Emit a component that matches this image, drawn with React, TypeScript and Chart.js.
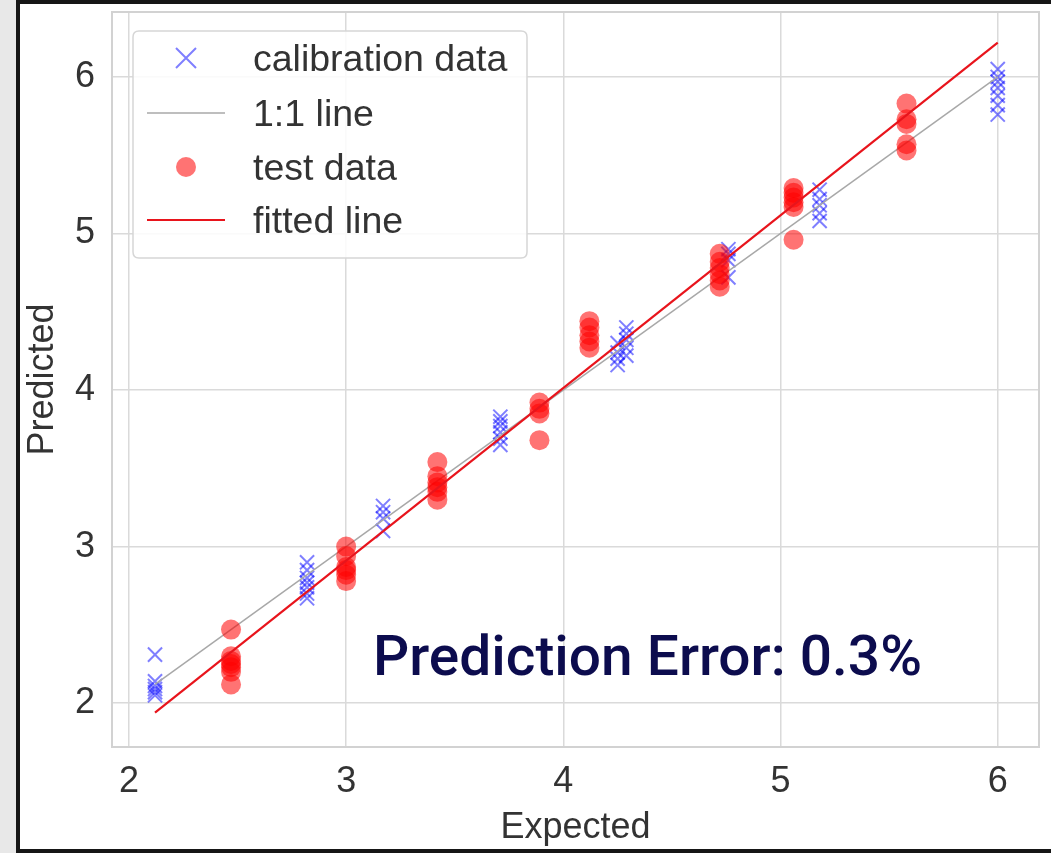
import React, { useEffect, useRef } from "react";
import { Chart, registerables } from "chart.js";

Chart.register(...registerables);

// ---------- data ----------
const xTicks = [2, 3, 4, 5, 6];
const yTicks = [2, 3, 4, 5, 6];

const seriesLabels = ["calibration data", "1:1 line", "test data", "fitted line"];

const calibExpected = [
  2.12, 2.12, 2.12, 2.12, 2.12, 2.12,
  2.82, 2.82, 2.82, 2.82, 2.82, 2.82, 2.82,
  3.17, 3.17, 3.17, 3.17,
  3.71, 3.71, 3.71, 3.71, 3.71, 3.71,
  4.25, 4.25, 4.25, 4.25,
  4.29, 4.29, 4.29, 4.29, 4.29,
  4.76, 4.76, 4.76, 4.76,
  5.18, 5.18, 5.18, 5.18, 5.18,
  6.0, 6.0, 6.0, 6.0, 6.0, 6.0, 6.0,
];
const calibPredicted = [
  2.31, 2.14, 2.11, 2.09, 2.07, 2.05,
  2.9, 2.85, 2.8, 2.77, 2.74, 2.7, 2.67,
  3.26, 3.22, 3.18, 3.1,
  3.83, 3.8, 3.77, 3.73, 3.69, 3.65,
  4.3, 4.24, 4.2, 4.16,
  4.4, 4.36, 4.32, 4.27, 4.22,
  4.9, 4.87, 4.83, 4.72,
  5.28, 5.22, 5.18, 5.13, 5.08,
  6.05, 6.0, 5.97, 5.93, 5.88, 5.82, 5.76,
];

const testExpected = [
  2.47, 2.47, 2.47, 2.47, 2.47, 2.47, 2.47,
  3.0, 3.0, 3.0, 3.0, 3.0, 3.0,
  3.42, 3.42, 3.42, 3.42, 3.42, 3.42,
  3.89, 3.89, 3.89, 3.89,
  4.12, 4.12, 4.12, 4.12, 4.12,
  4.72, 4.72, 4.72, 4.72, 4.72, 4.72,
  5.06, 5.06, 5.06, 5.06, 5.06, 5.06,
  5.58, 5.58, 5.58, 5.58, 5.58,
];
const testPredicted = [
  2.47, 2.3, 2.27, 2.25, 2.23, 2.2, 2.12,
  3.0, 2.94, 2.87, 2.85, 2.82, 2.78,
  3.54, 3.45, 3.41, 3.38, 3.35, 3.3,
  3.92, 3.88, 3.85, 3.68,
  4.44, 4.4, 4.35, 4.31, 4.27,
  4.87, 4.82, 4.78, 4.74, 4.7, 4.66,
  5.29, 5.26, 5.23, 5.2, 5.17, 4.96,
  5.83, 5.73, 5.7, 5.57, 5.53,
];

const oneToOneX = [2.12, 6.0];
const oneToOneY = [2.12, 6.0];
const fitX = [2.12, 6.0];
const fitY = [1.94, 6.22];

const xTitle = "Expected";
const yTitle = "Predicted";
const annotationText = "Prediction Error: 0.3%";

// ---------- styling ----------
const FONT = "'Liberation Sans', Arial, sans-serif";
const TEXT_COLOR = "#333333";
const GRID_COLOR = "#dadada";

const zip = (xs: number[], ys: number[]) => xs.map((x, i) => ({ x, y: ys[i] }));

const framePlugin = {
  id: "plotFrame",
  beforeDatasetsDraw(chart: any) {
    const { ctx, chartArea } = chart;
    ctx.save();
    ctx.strokeStyle = "#d2d2d2";
    ctx.lineWidth = 2;
    ctx.strokeRect(chartArea.left, chartArea.top, chartArea.right - chartArea.left, chartArea.bottom - chartArea.top);
    ctx.restore();
  },
};

const legendPlugin = {
  id: "innerLegend",
  afterDraw(chart: any) {
    const { ctx } = chart;
    const bx = 133, by = 31, bw = 394, bh = 227, r = 6;
    ctx.save();
    ctx.beginPath();
    ctx.moveTo(bx + r, by);
    ctx.lineTo(bx + bw - r, by);
    ctx.quadraticCurveTo(bx + bw, by, bx + bw, by + r);
    ctx.lineTo(bx + bw, by + bh - r);
    ctx.quadraticCurveTo(bx + bw, by + bh, bx + bw - r, by + bh);
    ctx.lineTo(bx + r, by + bh);
    ctx.quadraticCurveTo(bx, by + bh, bx, by + bh - r);
    ctx.lineTo(bx, by + r);
    ctx.quadraticCurveTo(bx, by, bx + r, by);
    ctx.closePath();
    ctx.fillStyle = "rgba(255,255,255,0.85)";
    ctx.fill();
    ctx.strokeStyle = "#d6d6d6";
    ctx.lineWidth = 1.5;
    ctx.stroke();

    const rowY = [58, 113, 167, 220];
    const mx = 186;
    chart.data.datasets.forEach((ds: any, i: number) => {
      const y = rowY[i];
      if (ds.showLine) {
        ctx.strokeStyle = ds.borderColor;
        ctx.lineWidth = ds.borderWidth;
        ctx.beginPath();
        ctx.moveTo(147, y);
        ctx.lineTo(225, y);
        ctx.stroke();
      } else if (ds.pointStyle === "crossRot") {
        const s = 10;
        ctx.strokeStyle = ds.borderColor;
        ctx.lineWidth = ds.borderWidth;
        ctx.beginPath();
        ctx.moveTo(mx - s, y - s);
        ctx.lineTo(mx + s, y + s);
        ctx.moveTo(mx + s, y - s);
        ctx.lineTo(mx - s, y + s);
        ctx.stroke();
      } else {
        ctx.fillStyle = ds.backgroundColor;
        ctx.beginPath();
        ctx.arc(mx, y, ds.pointRadius, 0, Math.PI * 2);
        ctx.fill();
      }
      ctx.fillStyle = TEXT_COLOR;
      ctx.font = `37.5px ${FONT}`;
      ctx.textBaseline = "alphabetic";
      ctx.textAlign = "left";
      ctx.fillText(ds.label, 253, y + 12.5);
    });
    ctx.restore();
  },
};

const annotationPlugin = {
  id: "errorText",
  afterDraw(chart: any) {
    const { ctx } = chart;
    ctx.save();
    ctx.font = `500 56px Roboto, 'Noto Sans', sans-serif`;
    ctx.fillStyle = "#0c0c4e";
    ctx.textBaseline = "alphabetic";
    ctx.textAlign = "left";
    const target = 549;
    const w = ctx.measureText(annotationText).width;
    ctx.translate(373, 675);
    ctx.scale(target / w, 1);
    ctx.fillText(annotationText, 0, 0);
    ctx.restore();
  },
};

export default function App() {
  const ref = useRef<HTMLCanvasElement | null>(null);

  useEffect(() => {
    if (!ref.current) return;
    const chart = new Chart(ref.current, {
      type: "scatter",
      data: {
        datasets: [
          {
            label: seriesLabels[0],
            data: zip(calibExpected, calibPredicted),
            pointStyle: "crossRot",
            pointRadius: 10,
            borderWidth: 2,
            borderColor: "rgba(0,0,255,0.5)",
            backgroundColor: "rgba(0,0,255,0.5)",
            order: 4,
          },
          {
            label: seriesLabels[1],
            data: zip(oneToOneX, oneToOneY),
            showLine: true,
            pointRadius: 0,
            borderWidth: 1.5,
            borderColor: "#a8a8a8",
            backgroundColor: "#a8a8a8",
            order: 3,
          },
          {
            label: seriesLabels[2],
            data: zip(testExpected, testPredicted),
            pointStyle: "circle",
            pointRadius: 10,
            borderWidth: 0,
            borderColor: "rgba(255,0,0,0.55)",
            backgroundColor: "rgba(255,0,0,0.55)",
            order: 2,
          },
          {
            label: seriesLabels[3],
            data: zip(fitX, fitY),
            showLine: true,
            pointRadius: 0,
            borderWidth: 2.2,
            borderColor: "#e8141c",
            backgroundColor: "#e8141c",
            order: 1,
          },
        ],
      },
      options: {
        responsive: false,
        animation: false,
        devicePixelRatio: 1,
        layout: { padding: { left: 0, top: 12, right: 6, bottom: 0 } },
        plugins: { legend: { display: false }, tooltip: { enabled: false } },
        scales: {
          x: {
            type: "linear",
            min: 1.922,
            max: 6.19,
            afterBuildTicks: (s: any) => {
              s.ticks = xTicks.map((v) => ({ value: v }));
            },
            afterFit: (s: any) => {
              s.height = 106;
              s.paddingLeft = 0;
              s.paddingRight = 0;
            },
            grid: { color: GRID_COLOR, lineWidth: 1.5, drawTicks: false },
            border: { display: false },
            ticks: { padding: 13, color: TEXT_COLOR, font: { family: FONT, size: 36 } },
            title: {
              display: true,
              text: xTitle,
              color: TEXT_COLOR,
              font: { family: FONT, size: 36 },
              padding: { top: 0, bottom: 3 },
            },
          },
          y: {
            type: "linear",
            min: 1.72,
            max: 6.415,
            afterBuildTicks: (s: any) => {
              s.ticks = yTicks.map((v) => ({ value: v }));
            },
            afterFit: (s: any) => {
              s.width = 112;
              s.paddingTop = 0;
              s.paddingBottom = 0;
            },
            grid: { color: GRID_COLOR, lineWidth: 1.5, drawTicks: false },
            border: { display: false },
            ticks: { padding: 17, color: TEXT_COLOR, font: { family: FONT, size: 36 } },
            title: {
              display: true,
              text: yTitle,
              color: TEXT_COLOR,
              font: { family: FONT, size: 36 },
              padding: { top: 21, bottom: 0 },
            },
          },
        },
      },
      plugins: [framePlugin, legendPlugin, annotationPlugin],
    } as any);
    return () => chart.destroy();
  }, []);

  return (
    <div style={{ position: "absolute", left: 0, top: 0, width: 1051, height: 853, background: "#e8e8e8", overflow: "hidden" }}>
      <div
        style={{
          position: "absolute",
          left: 16,
          top: 0,
          width: 1100,
          height: 853,
          boxSizing: "border-box",
          border: "4px solid #161616",
          background: "#ffffff",
        }}
      />
      <canvas ref={ref} width={1051} height={853} style={{ position: "absolute", left: 0, top: 0, width: 1051, height: 853 }} />
    </div>
  );
}
